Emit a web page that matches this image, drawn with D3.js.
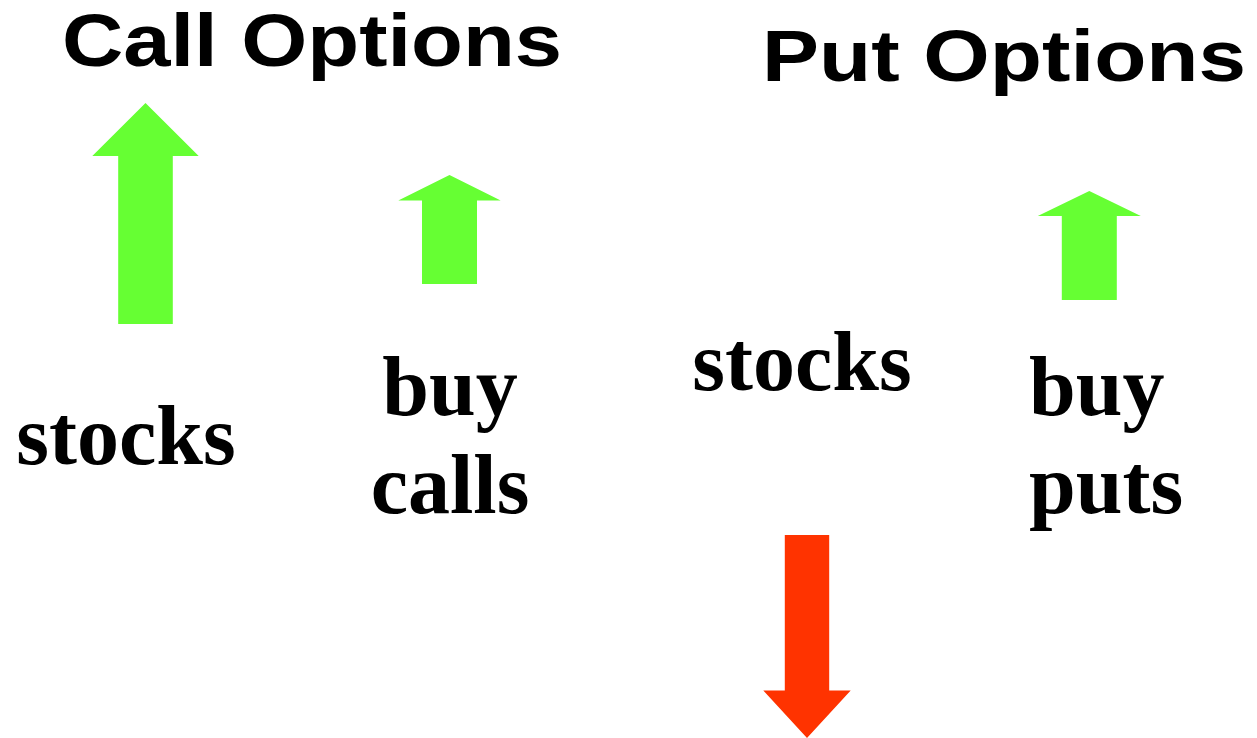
<!DOCTYPE html>
<html>
<head>
<meta charset="utf-8">
<script src="https://d3js.org/d3.v7.min.js"></script>
<style>
  html, body { margin: 0; padding: 0; background: #fff; overflow: hidden; }
</style>
</head>
<body>
<div id="chart"></div>
<script>
    // data
    var titles = ["Call Options", "Put Options"];
    var arrowNames = ["stocks (call)", "buy calls", "stocks (put)", "buy puts"];
    // level where each arrow starts and where its point ends (tenths of the page height)
    var arrowFrom = [32.4, 28.4, 53.5, 30.0];
    var arrowTo = [10.3, 17.5, 73.8, 19.1];
    var labelLines = [["stocks"], ["buy", "calls"], ["stocks"], ["buy", "puts"]];

    var width = 1257, height = 738;

    // layout
    var colX = [145.5, 449.5, 807, 1089.3];
    var shaftHalf = [27.3, 27.5, 22.2, 27.5];
    var headHalf = [53.2, 51.2, 43.7, 51.5];
    var headLen = [53, 25.5, 47.5, 25];
    var arrowColor = function (i) { return arrowTo[i] < arrowFrom[i] ? "#66ff33" : "#ff3300"; };

    var y = d3.scaleLinear().domain([0, 73.8]).range([0, height]);

    var svg = d3.select("#chart").append("svg")
        .attr("width", width)
        .attr("height", height);

    // titles
    var titlePos = [{ x: 62, y: 66, w: 500, size: 74 }, { x: 762, y: 81, w: 484, size: 72 }];
    svg.selectAll("text.title")
        .data(titles)
        .enter().append("text")
        .attr("class", "title")
        .attr("x", function (d, i) { return titlePos[i].x; })
        .attr("y", function (d, i) { return titlePos[i].y; })
        .attr("textLength", function (d, i) { return titlePos[i].w; })
        .attr("lengthAdjust", "spacingAndGlyphs")
        .style("font-family", "'Liberation Sans', Arial, Helvetica, sans-serif")
        .style("font-weight", "bold")
        .style("font-size", function (d, i) { return titlePos[i].size + "px"; })
        .text(function (d) { return d; });

    // arrows
    function arrowPath(i) {
        var cx = colX[i], y0 = y(arrowFrom[i]), y1 = y(arrowTo[i]);
        var dir = y1 < y0 ? -1 : 1;
        var hb = y1 - dir * headLen[i];
        var p = d3.path();
        p.moveTo(cx - shaftHalf[i], y0);
        p.lineTo(cx - shaftHalf[i], hb);
        p.lineTo(cx - headHalf[i], hb);
        p.lineTo(cx, y1);
        p.lineTo(cx + headHalf[i], hb);
        p.lineTo(cx + shaftHalf[i], hb);
        p.lineTo(cx + shaftHalf[i], y0);
        p.closePath();
        return p.toString();
    }

    svg.selectAll("path.arrow")
        .data(arrowNames)
        .enter().append("path")
        .attr("class", "arrow")
        .attr("d", function (d, i) { return arrowPath(i); })
        .attr("fill", function (d, i) { return arrowColor(i); });

    // labels
    var labelPos = [
        { x: 126, y: 464, anchor: "middle" },
        { x: 450, y: 415, anchor: "middle" },
        { x: 802, y: 390, anchor: "middle" },
        { x: 1029, y: 415, anchor: "start" }
    ];
    var lineGap = 98;

    var labels = svg.selectAll("text.label")
        .data(labelLines)
        .enter().append("text")
        .attr("class", "label")
        .attr("x", function (d, i) { return labelPos[i].x; })
        .attr("y", function (d, i) { return labelPos[i].y; })
        .attr("text-anchor", function (d, i) { return labelPos[i].anchor; })
        .style("font-family", "'Liberation Serif', 'Times New Roman', serif")
        .style("font-weight", "bold")
        .style("font-size", "84px");

    labels.selectAll("tspan")
        .data(function (d, i) { return d.map(function (t) { return { t: t, i: i }; }); })
        .enter().append("tspan")
        .attr("x", function (d) { return labelPos[d.i].x; })
        .attr("dy", function (d, j) { return j === 0 ? 0 : lineGap; })
        .text(function (d) { return d.t; });
</script>
</body>
</html>
